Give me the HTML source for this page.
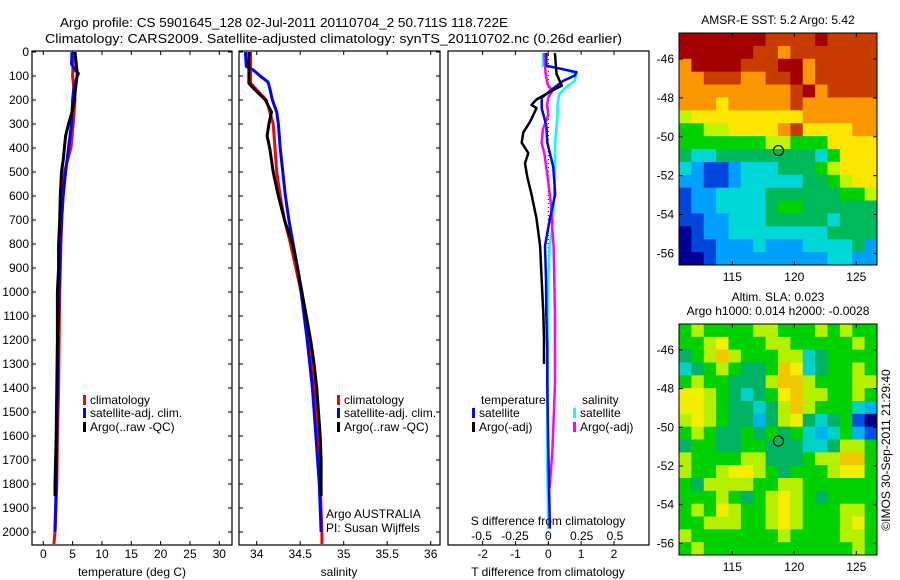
<!DOCTYPE html>
<html><head><meta charset="utf-8">
<style>
html,body{margin:0;padding:0;background:#fff;}
svg{display:block;font-family:"Liberation Sans",sans-serif;}
text{fill:#000;}
</style></head>
<body>
<svg id="fig" width="900" height="580" viewBox="0 0 900 580" xmlns="http://www.w3.org/2000/svg">
<text x="60" y="27" font-size="13" textLength="448" lengthAdjust="spacingAndGlyphs">Argo profile: CS 5901645_128 02-Jul-2011 20110704_2 50.711S 118.722E</text>
<text x="45" y="43" font-size="13" textLength="577" lengthAdjust="spacingAndGlyphs">Climatology: CARS2009. Satellite-adjusted climatology: synTS_20110702.nc (0.26d earlier)</text>
<text x="778" y="24" font-size="12" text-anchor="middle">AMSR-E SST: 5.2 Argo: 5.42</text>
<text x="778" y="301" font-size="12" text-anchor="middle">Altim. SLA: 0.023</text>
<text x="778" y="315" font-size="12" text-anchor="middle">Argo h1000: 0.014 h2000: -0.0028</text>
<text transform="translate(890,450) rotate(-90)" font-size="12" text-anchor="middle">©IMOS 30-Sep-2011 21:29:40</text>
<g id="g"></g>
</svg>
<script>
// ---- data ----
const depthTicks = [0,100,200,300,400,500,600,700,800,900,1000,1100,1200,1300,1400,1500,1600,1700,1800,1900,2000];
const tempTicks = [0,5,10,15,20,25,30];
const salTicks = [34,34.5,35,35.5,36];
const salTickLabels = ["34","34.5","35","35.5","36"];
const tdiffTicks = [-2,-1,0,1,2];
const sdiffTicks = [-0.5,-0.25,0,0.25,0.5];
const sdiffTickLabels = ["-0.5","-0.25","0","0.25","0.5"];

const argoTempDepth = [0,90,150,200,250,300,350,400,450,500,600,700,800,900,1000,1200,1400,1600,1800,1850];
const argoTemp = [5.4,5.8,5.5,5.3,4.9,4.3,3.8,3.6,3.4,3.1,2.9,2.8,2.6,2.6,2.4,2.4,2.3,2.2,2.0,2.0];
const climTempDepth = [0,100,200,300,400,500,600,800,1000,1200,1400,1600,1800,2000,2050];
const climTemp = [5.2,5.0,5.4,5.1,4.7,3.6,3.3,3.0,2.8,2.7,2.6,2.4,2.3,2.0,1.8];
const satTempDepth = [0,50,75,90,100,150,200,300,400,500,600,700,800,1000,1200,1400,1600,1800,2000];
const satTemp = [4.9,4.8,5.4,6.0,5.8,5.2,5.0,4.8,4.3,3.8,3.4,3.1,2.9,2.7,2.5,2.4,2.3,2.2,2.0];

const argoSalDepth = [0,130,150,200,250,300,350,400,500,600,700,800,900,1000,1100,1200,1300,1400,1500,1600,1700,1800,1850];
const argoSal = [33.91,33.91,33.96,34.10,34.17,34.14,34.12,34.15,34.19,34.25,34.32,34.41,34.47,34.52,34.57,34.62,34.66,34.69,34.71,34.73,34.74,34.74,34.74];
const climSalDepth = [0,130,150,200,300,400,500,600,700,800,900,1000,1200,1400,1600,1800,2000,2050];
const climSal = [33.93,33.93,33.98,34.11,34.19,34.21,34.23,34.27,34.32,34.39,34.45,34.51,34.61,34.67,34.71,34.73,34.75,34.75];
const satSalDepth = [0,60,75,100,125,150,200,250,300,400,500,600,700,800,900,1000,1200,1400,1600,1800,2000];
const satSal = [33.87,33.88,33.96,34.04,34.13,34.15,34.18,34.23,34.25,34.27,34.30,34.33,34.37,34.42,34.47,34.51,34.58,34.64,34.68,34.72,34.74];

const tArgoDiffDepth = [4,91,141,162,198,220,234,292,335,378,421,464,521,593,694,808,952,1096,1196,1300];
const tArgoDiff = [0.20,0.25,0.41,0.10,-0.36,-0.51,-0.36,-0.56,-0.76,-0.81,-0.61,-0.71,-0.64,-0.51,-0.36,-0.25,-0.20,-0.15,-0.13,-0.13];
const tSatDiffDepth = [4,57,84,98,120,162,191,234,306,378,478,593,694,808,952,1096,1239,1383,1670,1986];
const tSatDiff = [-0.06,-0.06,0.86,0.81,0.46,0.05,-0.20,-0.20,-0.06,-0.03,0.15,0.21,0.05,-0.10,-0.07,-0.06,-0.03,-0.03,0.0,0.05];
const sSatDiffDepth = [4,57,71,91,120,148,177,220,263,378,521,636,737,808,952,1096,1383,1670,1986];
const sSatDiff = [-0.04,-0.04,0.11,0.21,0.20,0.13,0.08,0.07,0.07,0.05,0.05,0.04,0.03,0.01,0.0,-0.005,-0.005,-0.01,0.0];
const sArgoDiffDepth = [4,91,134,162,191,220,263,320,378,421,521,636,737,808,1096,1383,1670,1815];
const sArgoDiff = [-0.03,-0.02,-0.005,0.03,0.0,-0.01,0.0,-0.04,-0.05,-0.03,-0.005,0.02,0.03,0.04,0.05,0.05,0.03,0.01];

const sstGrid = [
"aaaaaaa9999a9999","aaaaaa9989999999","8aaaa999aa899999","889998899a899999",
"8888888889a89999","8887888889888888","6777777777888888","5566777789777788",
"5555555665557777","4334444444435777","3211233344456777","2211233333445677",
"1223333444444556","1223333455444444","1122333444443444","0122333333334444",
"0112223222333342","0012222222223322"];
const slaGrid = [
"5655556655565655","5567555665555565","4568655566345555","3456544587345565",
"5655444688655566","7765434578665565","7765443468655532","6765442467434510",
"5654454545323521","4554455444334665","6555566444566885","6556776545556775",
"5466665566555555","5556545676545555","5657655676555665","5566655676555675",
"6555555565555665","5655555555555565"];
const mapLonTicks = [115,120,125];
const mapLatTicks = [-46,-48,-50,-52,-54,-56];
const argoLon = 118.722, argoLat = -50.711;

// ---- drawing ----
const NS="http://www.w3.org/2000/svg";
const G=document.getElementById('g');
function el(tag,attrs,parent,txt){const e=document.createElementNS(NS,tag);for(const k in attrs)e.setAttribute(k,attrs[k]);if(txt!==undefined)e.textContent=txt;(parent||G).appendChild(e);return e;}

const yTop=51,yBot=545;
function depthY(d){return 52+d*0.24;}
function lin(d0,d1,p0,p1){return v=>p0+(v-d0)*(p1-p0)/(d1-d0);}

function panel(x0,x1,name){
  const r=el('rect',{x:x0,y:yTop,width:x1-x0,height:yBot-yTop,fill:'none',stroke:'#000','stroke-width':1.2});
  
  
}
function yTicks(x0,x1,labels){
  depthTicks.forEach(d=>{const y=depthY(d);
    el('line',{x1:x0,y1:y,x2:x0+4,y2:y,stroke:'#000'});
    el('line',{x1:x1,y1:y,x2:x1-4,y2:y,stroke:'#000'});
    if(labels){const t=el('text',{x:x0-3,y:y+4,'font-size':12,'text-anchor':'end'},G,String(d));
      
      }
  });
}
function xTicks(vals,labs,sx,lblY,top){
  vals.forEach((v,i)=>{const x=sx(v);
    el('line',{x1:x,y1:yBot,x2:x,y2:yBot-4,stroke:'#000'});
    if(top) el('line',{x1:x,y1:yTop,x2:x,y2:yTop+4,stroke:'#000'});
    if(lblY){const t=el('text',{x:x,y:lblY,'font-size':12,'text-anchor':'middle'},G,labs?labs[i]:String(v));
      
      }
  });
}
function prof(vals,deps,sx,color,name,w){
  const pts=vals.map((v,i)=>sx(v).toFixed(1)+','+depthY(deps[i]).toFixed(1)).join(' ');
  const p=el('polyline',{points:pts,fill:'none',stroke:color,'stroke-width':w||3,'stroke-linejoin':'round'});
  
  
}
function legend(x,y,color,label,name){
  const g=el('g',{});
  
  
  el('rect',{x:x,y:y-9,width:3,height:10,fill:color},g);
  el('text',{x:x+7,y:y,'font-size':12},g,label);
}
function label(x,y,txt,name,anchor){
  const t=el('text',{x:x,y:y,'font-size':12,'text-anchor':anchor||'middle'},G,txt);
  
  
}

// Panel 1 temperature
const sxT=lin(0,30,43.3,219.3);
panel(32,232,'temperature-panel');
yTicks(32,232,true);
xTicks(tempTicks,null,sxT,558,true);
prof(climTemp,climTempDepth,sxT,'#ff0000','climatology-temp-line');
prof(satTemp,satTempDepth,sxT,'#0000ff','satellite-temp-line');
prof(argoTemp,argoTempDepth,sxT,'#000000','argo-temp-line');
label(132,576,'temperature (deg C)','temperature-axis-title');
legend(83,404,'#ff0000','climatology','legend-climatology');
legend(83,417,'#0000ff','satellite-adj. clim.','legend-satellite-adj');
legend(83,431,'#000000','Argo(..raw -QC)','legend-argo');

// Panel 2 salinity
const sxS=lin(34,36,256.7,430.7);
panel(239,440,'salinity-panel');
yTicks(239,440,false);
xTicks(salTicks,salTickLabels,sxS,558,true);
prof(climSal,climSalDepth,sxS,'#ff0000','climatology-sal-line');
prof(satSal,satSalDepth,sxS,'#0000ff','satellite-sal-line');
prof(argoSal,argoSalDepth,sxS,'#000000','argo-sal-line');
label(339,576,'salinity','salinity-axis-title');
legend(337,404,'#ff0000','climatology','legend-climatology-2');
legend(337,417,'#0000ff','satellite-adj. clim.','legend-satellite-adj-2');
legend(337,431,'#000000','Argo(..raw -QC)','legend-argo-2');
label(326,518,'Argo AUSTRALIA','argo-australia-label','start');
label(326,532,'PI: Susan Wijffels','pi-label','start');

// Panel 3 differences
const sxTd=lin(0,2,548.3,614);
const sxSd=lin(0,0.5,548.3,615);
panel(448,649,'difference-panel');
xTicks(tdiffTicks,null,sxTd,558,true);
el('line',{x1:548.3,y1:yTop,x2:548.3,y2:yBot,stroke:'#000','stroke-dasharray':'1,3','stroke-width':1});
prof(sSatDiff,sSatDiffDepth,sxSd,'#00ffff','salinity-satellite-diff-line',2.5);
prof(sArgoDiff,sArgoDiffDepth,sxSd,'#ff00ff','salinity-argo-diff-line',2.5);
prof(tSatDiff,tSatDiffDepth,sxTd,'#0000ff','temperature-satellite-diff-line',2.5);
prof(tArgoDiff,tArgoDiffDepth,sxTd,'#000000','temperature-argo-diff-line',2.5);
sdiffTicks.forEach((v,i)=>label(sxSd(v),540,sdiffTickLabels[i],'s-diff-tick-label'));
label(548,525,'S difference from climatology','s-diff-axis-title');
label(548,576,'T difference from climatology','t-diff-axis-title');
label(481,404,'temperature','legend-temperature-header','start');
legend(472,417,'#0000ff','satellite','legend-temp-satellite');
legend(472,431,'#000000','Argo(-adj)','legend-temp-argo');
label(582,404,'salinity','legend-salinity-header','start');
legend(573,417,'#00ffff','satellite','legend-sal-satellite');
legend(573,431,'#ff00ff','Argo(-adj)','legend-sal-argo');

// Maps
const palSST={'0':'#000096','1':'#0046dc','2':'#00a0ff','3':'#00d7d7','4':'#00b95a','5':'#00d200','6':'#bef500','7':'#fae600','8':'#fa9600','9':'#c83c00','a':'#a50000'};
const palSLA={'0':'#000080','1':'#0050e6','2':'#00b4f0','3':'#00d2c8','4':'#00b464','5':'#00d200','6':'#b4f000','7':'#f0f000','8':'#f0c800'};
function map(grid,pal,top,bot,name){
  const lon0=110.7,lon1=126.67,lat0=-44.66,lat1=-56.6;
  const sx=lin(lon0,lon1,679,877), sy=lin(lat0,lat1,top,bot);
  const g=el('g',{});
  
  
  const nr=grid.length,nc=grid[0].length,dl=(lon1-lon0)/nc,dt=(lat1-lat0)/nr;
  grid.forEach((row,r)=>{[...row].forEach((c,k)=>{
    const x=sx(lon0+k*dl),y=sy(lat0+r*dt);
    const cell=el('rect',{x:x.toFixed(2),y:y.toFixed(2),width:(sx(lon0+(k+1)*dl)-x+0.4).toFixed(2),height:(sy(lat0+(r+1)*dt)-y+0.4).toFixed(2),fill:pal[c]},g);
    
    
  });});
  el('rect',{x:679,y:top,width:198,height:bot-top,fill:'none',stroke:'#000','stroke-width':1},g);
  mapLonTicks.forEach(v=>{const x=sx(v);
    el('line',{x1:x,y1:top,x2:x,y2:top+4,stroke:'#000'},g);
    el('line',{x1:x,y1:bot,x2:x,y2:bot-4,stroke:'#000'},g);
    el('text',{x:x,y:bot+16,'font-size':12,'text-anchor':'middle'},g,String(v));});
  mapLatTicks.forEach(v=>{const y=sy(v);
    el('line',{x1:679,y1:y,x2:683,y2:y,stroke:'#000'},g);
    el('line',{x1:877,y1:y,x2:873,y2:y,stroke:'#000'},g);
    el('text',{x:674,y:y+4,'font-size':12,'text-anchor':'end'},g,String(v));});
  const m=el('circle',{cx:sx(argoLon),cy:sy(argoLat),r:5,fill:'none',stroke:'#000','stroke-width':1.2},g);
  
  
}
map(sstGrid,palSST,33,265,'sst-map');
map(slaGrid,palSLA,324,555,'sla-map');
</script>
</body></html>
